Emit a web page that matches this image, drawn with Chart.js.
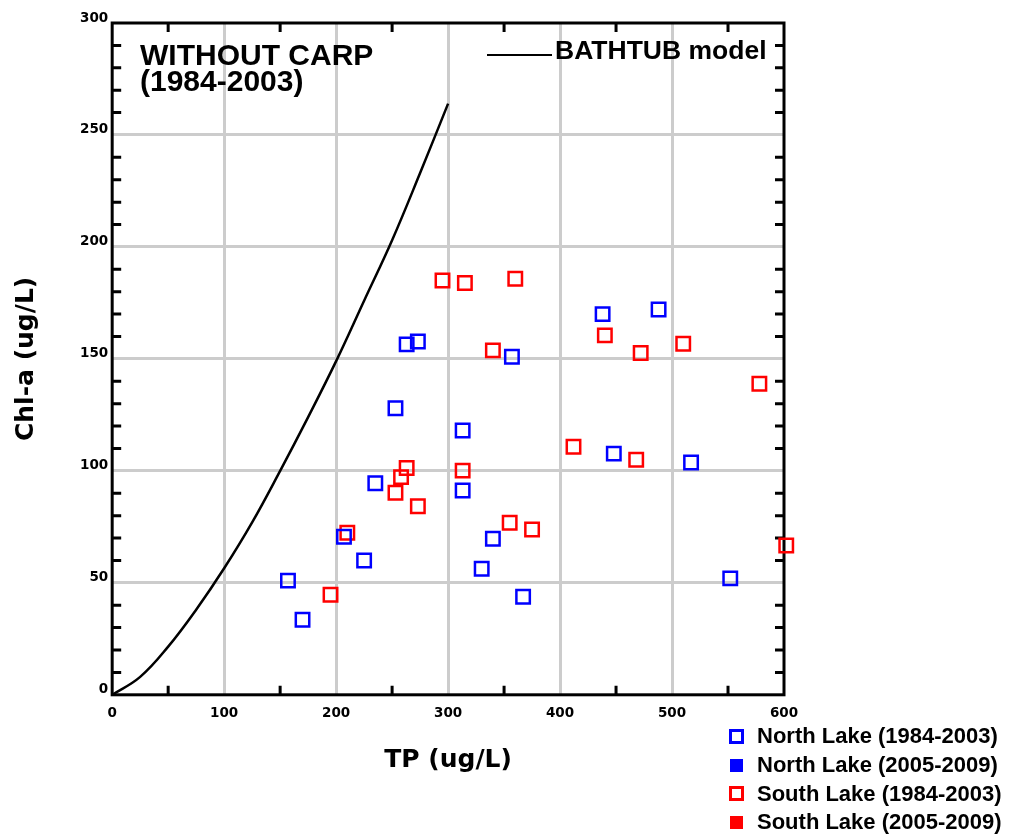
<!DOCTYPE html>
<html>
<head>
<meta charset="utf-8">
<script src="https://cdn.jsdelivr.net/npm/chart.js@4.4.1/dist/chart.umd.min.js"></script>
<style>
  body { margin: 0; background: #fff; }
  #wrap { position: relative; width: 1015px; height: 838px; font-family: "Liberation Sans", Arial, sans-serif; font-weight: bold; color: #000; }
  #chart { position: absolute; left: 0; top: 0; }
  .note { position: absolute; white-space: nowrap; }
  #legend { position: absolute; left: 729px; top: 722px; }
  .row { display: flex; align-items: center; height: 28.7px; font-size: 22px; white-space: nowrap; }
  .mark { width: 15px; height: 15px; box-sizing: border-box; margin-right: 13px; }
</style>
</head>
<body>
<div id="wrap">
  <canvas id="chart" width="1015" height="838"></canvas>
  <div class="note" style="left:140px; top:42px; font-size:30px; line-height:26px;">WITHOUT CARP<br>(1984-2003)</div>
  <div class="note" style="left:487px; top:54px; width:65px; border-top:2.5px solid #000;"></div>
  <div class="note" style="left:555px; top:37px; font-size:26.5px; line-height:26px;">BATHTUB model</div>
  <div id="legend"></div>
</div>
<script>
// North Lake 1984-2003 (blue open squares)
const northTP = [157, 170, 207, 225, 235, 253, 263, 273, 313, 313, 330, 340, 357, 367, 438, 448, 488, 517, 552];
const northChl = [51, 33.5, 70.6, 60, 94.5, 128, 156.5, 157.8, 118, 91.2, 56.3, 69.7, 151, 43.8, 170, 107.7, 172.1, 103.7, 52];

// South Lake 1984-2003 (red open squares)
const southTP = [195, 210, 253, 258, 263, 273, 295, 315, 313, 340, 355, 360, 375, 412, 440, 468, 472, 510, 578, 602];
const southChl = [44.7, 72.4, 90.2, 97.2, 101.3, 84.2, 185, 183.9, 100.1, 153.8, 76.8, 185.8, 73.8, 110.8, 160.5, 105, 152.6, 156.8, 138.9, 66.7];

// BATHTUB model curve
const bathtubTP = [0, 25, 50, 75, 100, 125, 150, 175, 200, 225, 250, 275, 300];
const bathtubChl = [0, 8, 21.5, 38, 56.5, 77, 100, 124, 149, 176, 203, 233, 264];

const xTicks = [0, 100, 200, 300, 400, 500, 600];
const yTicks = [0, 50, 100, 150, 200, 250, 300];

const seriesNames = ["North Lake (1984-2003)", "North Lake (2005-2009)", "South Lake (1984-2003)", "South Lake (2005-2009)"];
const seriesColors = ["#0000ff", "#0000ff", "#ff0000", "#ff0000"];
const seriesFilled = [false, true, false, true];

const toPoints = (xs, ys) => xs.map((v, i) => ({ x: v, y: ys[i] }));

const squares = (label, xs, ys, color) => ({
  label: label,
  data: toPoints(xs, ys),
  pointStyle: "rect",
  pointRadius: 9.5,
  pointBorderWidth: 2.5,
  pointBorderColor: color,
  pointBackgroundColor: "rgba(0,0,0,0)",
  showLine: false,
  clip: false,
});

// frame and inward minor ticks, like the original plot
const framePlugin = {
  id: "frame",
  beforeDatasetsDraw(chart) {
    const { ctx, chartArea, scales } = chart;
    const { left, top, right, bottom } = chartArea;
    const len = 9;
    ctx.save();
    ctx.strokeStyle = "#000";
    ctx.lineWidth = 3;
    ctx.beginPath();
    for (let v = 50; v < 600; v += 100) {
      const px = scales.x.getPixelForValue(v);
      ctx.moveTo(px, bottom); ctx.lineTo(px, bottom - len);
      ctx.moveTo(px, top); ctx.lineTo(px, top + len);
    }
    for (let v = 10; v < 300; v += 10) {
      if (v % 50 === 0) continue;
      const py = scales.y.getPixelForValue(v);
      ctx.moveTo(left, py); ctx.lineTo(left + len, py);
      ctx.moveTo(right, py); ctx.lineTo(right - len, py);
    }
    ctx.stroke();
    ctx.strokeRect(left, top, right - left, bottom - top);
    ctx.restore();
  },
};

const tickFont = { family: "'DejaVu Sans'", weight: "bold", size: 13.5 };
const titleFont = { family: "'DejaVu Sans'", weight: "bold", size: 25 };

new Chart(document.getElementById("chart"), {
  type: "scatter",
  data: {
    datasets: [
      squares(seriesNames[0], northTP, northChl, seriesColors[0]),
      squares(seriesNames[2], southTP, southChl, seriesColors[2]),
      {
        label: "BATHTUB model",
        data: toPoints(bathtubTP, bathtubChl),
        showLine: true,
        pointRadius: 0,
        borderColor: "#000",
        borderWidth: 2.5,
        tension: 0.4,
      },
    ],
  },
  options: {
    responsive: false,
    animation: false,
    events: [],
    layout: { padding: { left: 11, right: 231, top: 23, bottom: 63 } },
    plugins: { legend: { display: false }, tooltip: { enabled: false } },
    scales: {
      x: {
        type: "linear",
        min: 0,
        max: 600,
        afterBuildTicks: (scale) => { scale.ticks = xTicks.map((v) => ({ value: v })); },
        ticks: { font: tickFont, color: "#000", padding: 11, maxRotation: 0, autoSkip: false },
        grid: {
          drawTicks: false,
          lineWidth: 3,
          color: (c) => (c.tick && (c.tick.value === 0 || c.tick.value === 600) ? "rgba(0,0,0,0)" : "#cccccc"),
        },
        border: { display: false },
        title: { display: true, text: "TP (ug/L)", font: titleFont, color: "#000", padding: { top: 12, bottom: 0 } },
      },
      y: {
        type: "linear",
        min: 0,
        max: 300,
        afterBuildTicks: (scale) => { scale.ticks = yTicks.map((v) => ({ value: v })); },
        ticks: { font: tickFont, color: "#000", padding: 4, labelOffset: -5, autoSkip: false },
        grid: {
          drawTicks: false,
          lineWidth: 3,
          color: (c) => (c.tick && (c.tick.value === 0 || c.tick.value === 300) ? "rgba(0,0,0,0)" : "#cccccc"),
        },
        border: { display: false },
        title: { display: true, text: "Chl-a (ug/L)", font: titleFont, color: "#000", padding: { top: 0, bottom: 35 } },
      },
    },
  },
  plugins: [framePlugin],
});

// legend below the plot, at the right
const legend = document.getElementById("legend");
seriesNames.forEach((name, i) => {
  const row = document.createElement("div");
  row.className = "row";
  const mark = document.createElement("span");
  mark.className = "mark";
  if (seriesFilled[i]) {
    mark.style.background = seriesColors[i];
    mark.style.width = "13px";
    mark.style.height = "13px";
    mark.style.margin = "0 14px 0 1px";
  } else {
    mark.style.border = "3px solid " + seriesColors[i];
  }
  const text = document.createElement("span");
  text.textContent = name;
  row.appendChild(mark);
  row.appendChild(text);
  legend.appendChild(row);
});
</script>
</body>
</html>
